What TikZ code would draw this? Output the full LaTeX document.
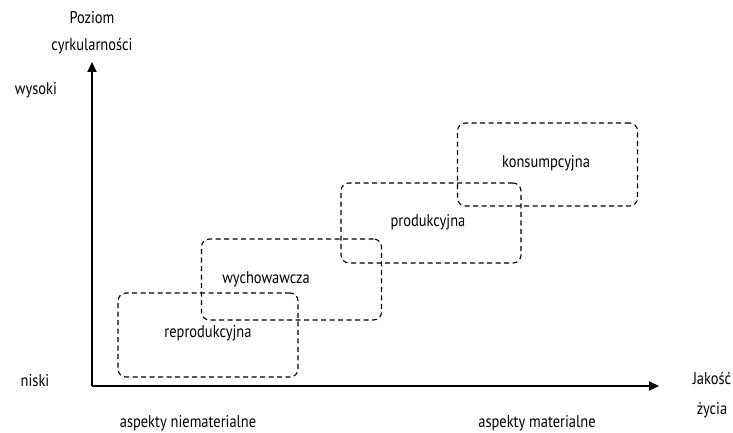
\documentclass[tikz,border=0pt]{standalone}
\usepackage{fontspec}
\setmainfont{PT Sans}[FakeStretch=0.85]
\usetikzlibrary{positioning,arrows.meta}
\tikzset{
  phase/.style={draw=black,dash pattern=on 5pt off 3.5pt,rounded corners=8pt,line width=1.1pt,
    minimum width=180pt,inner sep=0pt},
  axis/.style={draw=black,line width=1.8pt,-{Triangle[length=10pt,width=9pt]}},
  lbl/.style={font=\fontsize{17}{27}\selectfont,inner sep=1pt,align=center},
}

\begin{document}
\begin{tikzpicture}[x=1pt,y=-1pt]
\useasboundingbox (0,0) rectangle (733,433);
% axes
\coordinate (O) at (92,386);
\coordinate (ytop) at (92,62);
\coordinate (xend) at (659,386);
\draw[axis] (O)--(ytop);
\draw[axis] (O)--(xend);
% phases
\foreach \n/\cx/\cy/\h in {rep/208/335/84,wych/291.5/279.5/81,prod/431/223/80,kons/547.5/164.5/83}
  \node[phase,minimum height=\h pt] (\n) at (\cx,\cy) {};
\node[lbl] (lrep) at (208,333) {reprodukcyjna};
\node[lbl] (lwych) at (266,279) {wychowawcza};
\node[lbl] (lprod) at (428,222) {produkcyjna};
\node[lbl] (lkons) at (546,163) {konsumpcyjna};
% axis labels
\node[lbl] (ylab) at (92,32.5) {Poziom\\cyrkularności};
\node[lbl] (xlab) at (712,395) {Jakość\\[3pt]życia};
\node[lbl] (hi) at (36,90) {wysoki};
\node[lbl] (lo) at (35,381) {niski};
\node[lbl] (nonmat) at (188,423) {aspekty niematerialne};
\node[lbl] (mat) at (537,423) {aspekty materialne};
\end{tikzpicture}
\end{document}
